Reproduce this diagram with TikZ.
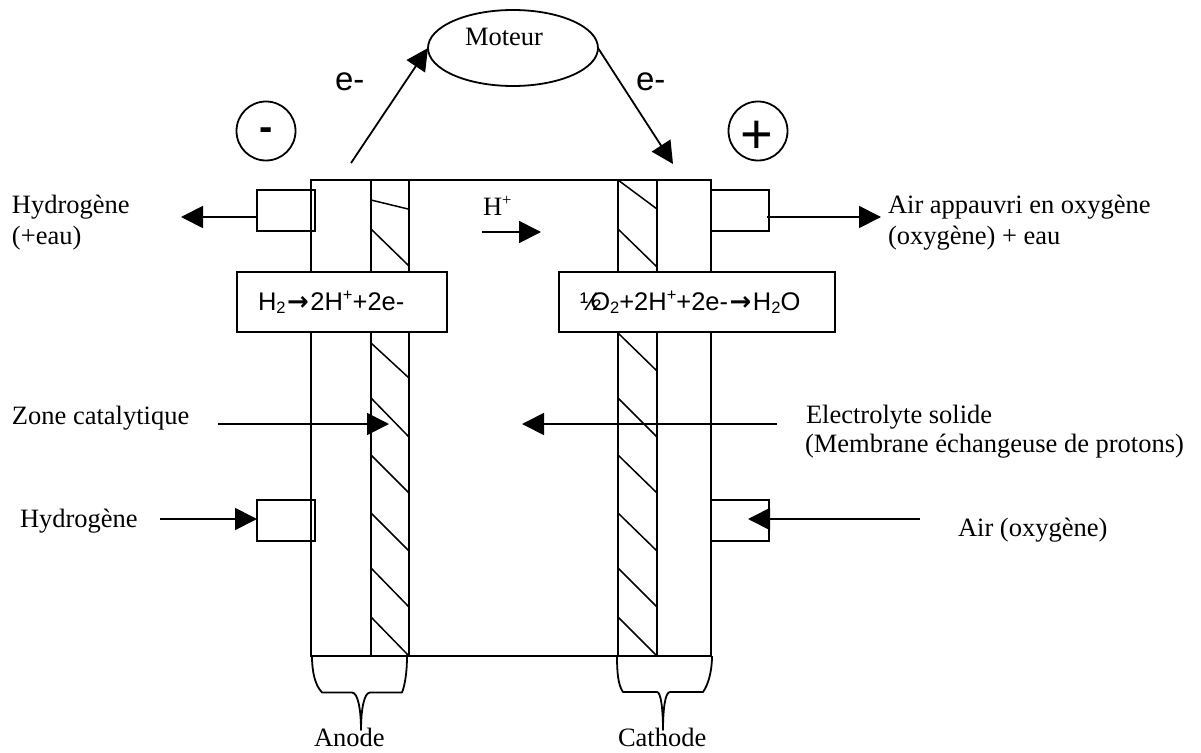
\documentclass[tikz,border=0pt]{standalone}
\usepackage{fontspec}
\usetikzlibrary{arrows.meta,shapes.geometric}
\setmainfont{Liberation Serif}
\newfontfamily\arialf{Liberation Sans}
\newfontfamily\dejaf{DejaVu Sans}
\newcommand{\sersize}{\fontsize{26.5}{30}\selectfont}
\newcommand{\arisize}{\fontsize{25.5}{30}\selectfont\arialf}
\newcommand{\subx}[1]{\raisebox{-3.5pt}{\fontsize{16.5}{20}\selectfont #1}}
\newcommand{\supx}[1]{\raisebox{9.5pt}{\fontsize{16.5}{20}\selectfont #1}}
\newcommand{\tox}{{\dejaf\bfseries\fontsize{26}{30}\selectfont\kern1.5pt→\kern1.5pt}}
\tikzset{
  ln/.style={line width=1.8pt,black},
  arr/.style={ln,-{Triangle[length=22pt,width=22pt]}},
  lab/.style={inner sep=0pt,outer sep=0pt,anchor=base west,font=\sersize},
  cell/.style={draw,ln,inner sep=0pt,outer sep=0pt,anchor=north west},
  formula/.style={cell,fill=white,minimum height=60pt},
  port/.style={cell,minimum width=58pt,minimum height=41pt},
  sgn/.style={circle,draw,ln,minimum size=59pt,inner sep=0pt},
  hatch/.style={line width=1.5pt}
}
\begin{document}
\begin{tikzpicture}[x=1pt,y=-1pt]
\useasboundingbox (0,0) rectangle (1201,752);
% cell body
\node[cell,minimum width=400pt,minimum height=476pt] (body) at (311,180) {};
\node[cell,minimum width=38pt,minimum height=476pt] (memA) at (371,180) {};
\node[cell,minimum width=39pt,minimum height=476pt] (memC) at (618,180) {};
% hatching
\draw[hatch] (371,200) -- (408,209);
\foreach \a/\b in {229/266,343/378,398/437,455/493,513/551,568/607,617/656}
  \draw[hatch] (371,\a) -- (409,\b);
\foreach \a/\b in {180/209,229/267,333/371,398/437,455/493,513/551,568/607,617/656}
  \draw[hatch] (618,\a) -- (657,\b);
% ports
\node[port] (pA1) at (257,190) {};
\node[port] (pC1) at (711,190) {};
\node[port] (pA2) at (257,500) {};
\node[port] (pC2) at (711,500) {};
% reaction boxes
\node[formula,minimum width=210pt] (fA) at (237,272) {};
\node[formula,minimum width=276pt] (fC) at (559,272) {};
\node[lab,font=\arisize] (tA) at (258,310) {H\subx{2}\tox 2H\supx{+}+2e-};
\node[lab,font=\arisize] (tC) at (580,310) {½\kern-11pt O\subx{2}+2H\supx{+}+2e-\tox H\subx{2}O};
% motor
\node[ellipse,draw,ln,minimum width=170pt,minimum height=76pt,inner sep=0pt,outer sep=0pt] (mot) at (513,48) {};
\node[lab] (tMot) at (465,46) {Moteur};
% signs
\node[sgn] (neg) at (266,131) {};
\node[sgn] (pos) at (758,131) {};
\node[font=\fontsize{40}{40}\selectfont\arialf\bfseries,inner sep=0pt] (tNeg) at (266,134) {-};
\node[font=\fontsize{56}{56}\selectfont\arialf,inner sep=0pt] (tPos) at (757,137) {+};
\node[lab,font=\fontsize{33}{33}\selectfont\arialf] (e1) at (335,90) {e-};
\node[lab,font=\fontsize{33}{33}\selectfont\arialf] (e2) at (636,90) {e-};
% labels
\node[lab] (l1) at (12,213) {Hydrogène};
\node[lab] (l1b) at (12,244) {(+eau)};
\node[lab] (l2) at (888,213) {Air appauvri en oxygène};
\node[lab] (l2b) at (888,244) {(oxygène) + eau};
\node[lab] (l3) at (12,424) {Zone catalytique};
\node[lab] (l4) at (806,423) {Electrolyte solide};
\node[lab] (l4b) at (805,452) {(Membrane échangeuse de protons)};
\node[lab] (l5) at (20,527) {Hydrogène};
\node[lab] (l6) at (958,536) {Air (oxygène)};
\node[lab] (l7) at (314,746) {Anode};
\node[lab] (l8) at (618,746) {Cathode};
\node[lab] (l9) at (483,215) {H\supx{+}};
% connector ends
\coordinate (c1) at (351,163);
\coordinate (c2) at (673,164);
\coordinate (c3a) at (181,217);
\coordinate (c3b) at (257,217);
\coordinate (c4a) at (767,217);
\coordinate (c4b) at (881,217);
\coordinate (c5a) at (482,232);
\coordinate (c5b) at (541,232);
\coordinate (c6a) at (218,424);
\coordinate (c6b) at (389,424);
\coordinate (c7a) at (777,424);
\coordinate (c7b) at (522,424);
\coordinate (c8a) at (160,519);
\coordinate (c8b) at (257,519);
\coordinate (c9a) at (920,519);
\coordinate (c9b) at (748,519);
% connectors
\draw[arr] (c1) -- (mot.west);
\draw[arr] (mot.east) -- (c2);
\draw[arr] (c3b) -- (c3a);
\draw[arr] (c4a) -- (c4b);
\draw[arr] (c5a) -- (c5b);
\draw[arr] (c6a) -- (c6b);
\draw[arr] (c7a) -- (c7b);
\draw[arr] (c8a) -- (c8b);
\draw[arr] (c9a) -- (c9b);
% braces
\draw[ln,line join=round] (312,656) .. controls (312,672) and (315,685) .. (322,692.5) -- (352,692.5)
  .. controls (358,692.5) and (361,710) .. (361,730)
  .. controls (361,710) and (364,692.5) .. (370,692.5) -- (402,692.5)
  .. controls (405,685) and (407,672) .. (407,656);
\draw[ln,line join=round] (617,656) .. controls (617,672) and (618,685) .. (623,692) -- (657,692)
  .. controls (661,692) and (663,710) .. (663,730)
  .. controls (663,710) and (665,692) .. (670,692) -- (703,692)
  .. controls (708,685) and (712,672) .. (712,656);
\end{tikzpicture}
\end{document}
